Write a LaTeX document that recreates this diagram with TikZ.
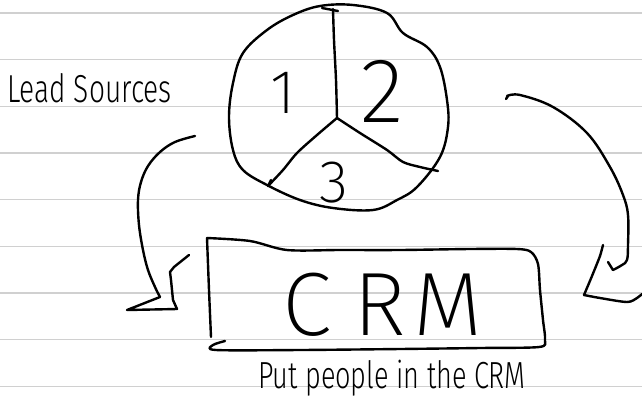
\documentclass[tikz,border=0pt]{standalone}
\usepackage{fontspec}
\usepackage{graphicx}
% thin pen-like faces, falling back to heavier ones when a weight is absent
\IfFontExistsTF{Fira Sans ExtraLight}{\newfontfamily\penthin{Fira Sans ExtraLight}}{%
 \IfFontExistsTF{Fira Sans Thin}{\newfontfamily\penthin{Fira Sans Thin}}{%
  \IfFontExistsTF{Fira Sans Light}{\newfontfamily\penthin{Fira Sans Light}}{%
   \newfontfamily\penthin{Fira Sans}}}}
\IfFontExistsTF{Fira Sans Light}{\newfontfamily\penlight{Fira Sans Light}}{%
 \newfontfamily\penlight{Fira Sans}}
\definecolor{ruleGray}{HTML}{D0D0D0}
\begin{document}
\begin{tikzpicture}[x=1pt,y=-1pt,
  pen/.style={line width=2.4pt,line cap=round,line join=round,black},
  ruling/.style={line width=1.3pt,ruleGray},
  label/.style={inner sep=0pt,anchor=base west,black},
  digit/.style={inner sep=0pt,anchor=base west,black}]
\useasboundingbox (0,0) rectangle (642,397);
\fill[white] (0,0) rectangle (642,397);

% ruled notebook paper
\foreach \k in {0,...,8}
  \draw[ruling] (0,13+46.65*\k) -- (642,13+46.65*\k);

% the pie of lead sources
\draw[pen] plot[smooth cycle,tension=0.6] coordinates {
  (320,6) (353,5) (387,13) (403,33) (427,47) (440,67) (447,100) (448,127)
  (440,157) (417,187) (397,200) (373,210) (333,208) (300,200) (267,185)
  (243,170) (233,150) (229,117) (233,83) (243,53) (267,30) (293,15)};
\coordinate (hub) at (337,118);
\draw[pen] (322,8) -- (338,11);
\draw[pen] plot[smooth,tension=0.5] coordinates {(333,9) (334,40) (336,80) (hub)};
\draw[pen] plot[smooth,tension=0.5] coordinates {(hub) (317,135) (297,153) (283,170) (268,186)};
\draw[pen] (268,186) -- (271,180);
\draw[pen] plot[smooth,tension=0.5] coordinates {(hub) (360,133) (387,150) (403,162) (420,167) (438,171)};

\node[digit,font=\penthin\fontsize{62}{62}\selectfont] (one) at (270,113) {1};
\node[digit,font=\penthin\fontsize{92}{92}\selectfont] (two) at (360,122) {2};
\node[digit,font=\penthin\fontsize{60}{60}\selectfont] (three) at (319,202) {3};

% the CRM box
\draw[pen] plot[smooth,tension=0.4] coordinates {(207,238) (209,290) (211,337)};
\draw[pen] plot[smooth,tension=0.5] coordinates {
  (207,238) (250,241) (287,250) (340,250) (400,250) (470,249) (517,249)
  (531,252) (538,264) (540,290) (543,320) (545,340) (539,347) (480,348)
  (400,349) (300,350) (216,350) (213,345) (225,341)};
\node[label,font=\penthin\fontsize{90}{90}\selectfont] (crm) at (282,335)
  {C\hspace{0.25em}R\hspace{0.08em}M};

% labels
\node[label,font=\penlight\fontsize{39}{39}\selectfont] (lead) at (7,102)
  {\scalebox{0.72}[1]{Lead Sources}};
\node[label,font=\penlight\fontsize{37.7}{38}\selectfont] (put) at (258,388)
  {\scalebox{0.718}[1]{Put people in the CRM}};

% left arrow: from the lead sources down beside the box
\coordinate (lstart) at (195,136);
\coordinate (ltip) at (160,297);
\draw[pen] plot[smooth,tension=0.6] coordinates {
  (lstart) (175,142) (160,152) (148,166) (141,182) (138,200) (139,225)
  (143,250) (148,270) (155,287) (ltip)};
\draw[pen] (ltip) -- (127,310) -- (177,309) -- (173,300) -- (171,280)
  -- (170,272) -- (174,267) -- (189,255);

% right arrow: from the pie down the right side
\coordinate (rstart) at (506,97);
\coordinate (rtip) at (613,270);
\draw[pen] (506,99) -- (508,96);
\draw[pen] plot[smooth,tension=0.6] coordinates {
  (507,96) (520,95) (553,107) (587,133) (610,167) (623,195) (628,215)
  (628,245) (627,260) (622,265) (rtip)};
\draw[pen] (rtip) -- (608,262);
\draw[pen] plot[smooth,tension=0.3] coordinates {
  (603,245) (600,256) (592,276) (584,295)};
\draw[pen] plot[smooth,tension=0.5] coordinates {
  (584,295) (600,298) (627,302) (637,298) (642,294)};
\end{tikzpicture}
\end{document}
